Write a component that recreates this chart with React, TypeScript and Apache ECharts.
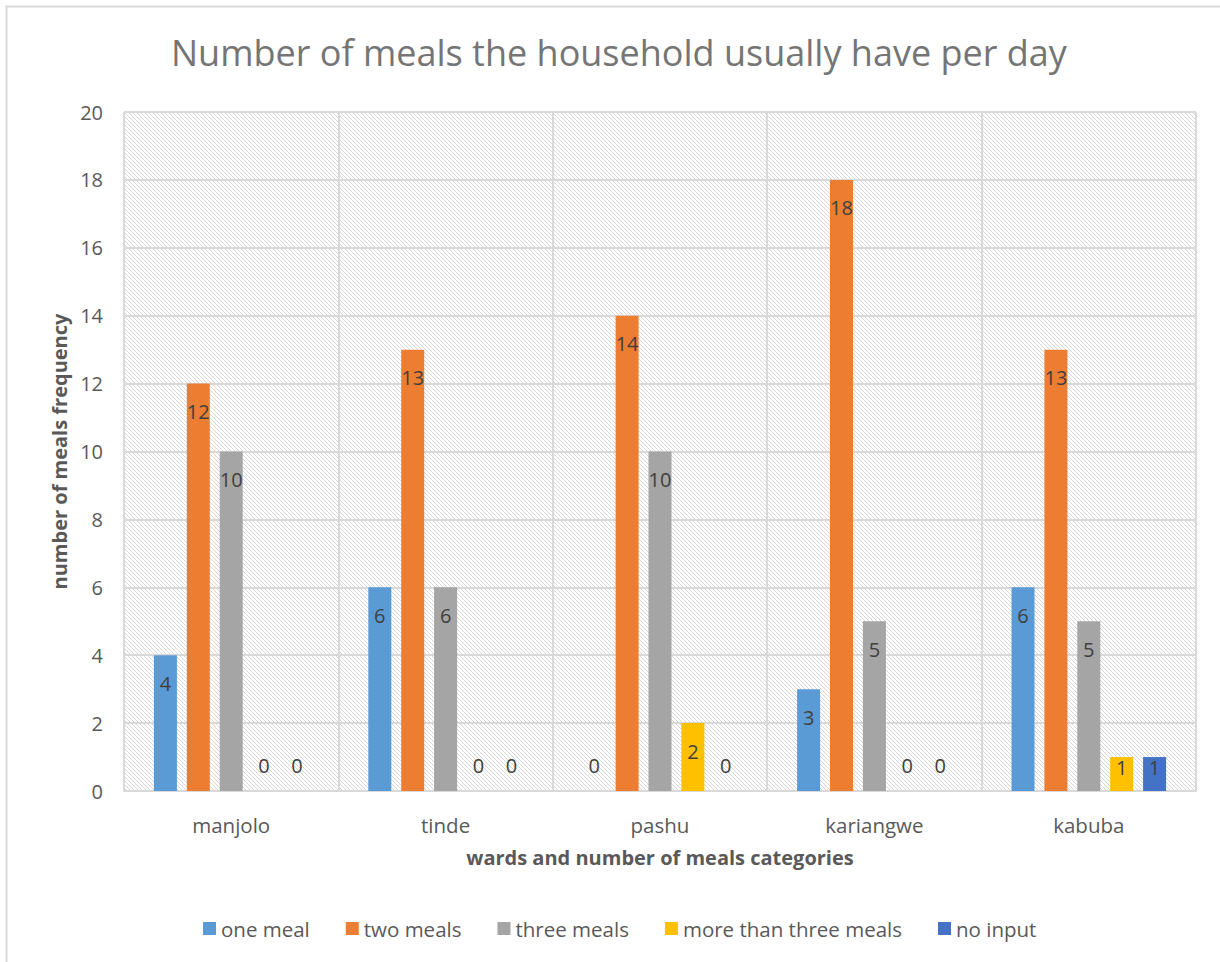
import React, { useEffect, useRef } from "react";
import * as echarts from "echarts";

const wards = ["manjolo", "tinde", "pashu", "kariangwe", "kabuba"];
const oneMeal = [4, 6, 0, 3, 6];
const twoMeals = [12, 13, 14, 18, 13];
const threeMeals = [10, 6, 10, 5, 5];
const moreThanThree = [0, 0, 2, 0, 1];
const noInput = [0, 0, 0, 0, 1];
const seriesNames = ["one meal", "two meals", "three meals", "more than three meals", "no input"];
const seriesValues = [oneMeal, twoMeals, threeMeals, moreThanThree, noInput];
const seriesColors = ["#5b9bd5", "#ed7d31", "#a5a5a5", "#ffc000", "#4472c4"];
const yTicks = [0, 2, 4, 6, 8, 10, 12, 14, 16, 18, 20];

const FONT = "'Open Sans', 'Noto Sans', sans-serif";

function makeHatch(): HTMLCanvasElement {
  const c = document.createElement("canvas");
  c.width = 4;
  c.height = 4;
  const ctx = c.getContext("2d")!;
  ctx.fillStyle = "#ffffff";
  ctx.fillRect(0, 0, 4, 4);
  ctx.fillStyle = "#d6d6d6";
  for (let i = 0; i < 4; i++) ctx.fillRect(i, i, 1, 1);
  return c;
}

function labelFor(v: number) {
  if (v === 0) return { position: "top", distance: 16 };
  if (v === 1) return { position: "insideTop", distance: 0 };
  return { position: "insideTop", distance: 18 };
}

export default function App() {
  const ref = useRef<HTMLDivElement>(null);
  useEffect(() => {
    if (!ref.current) return;
    const chart = echarts.init(ref.current, null, { renderer: "svg" });
    const hatch = makeHatch();
    chart.setOption({
      animation: false,
      backgroundColor: "#ffffff",
      title: {
        text: "Number of meals the household usually have per day",
        left: 166,
        top: 29,
        padding: 5,
        textStyle: { fontFamily: FONT, fontSize: 36, fontWeight: "normal", color: "#757575" },
      },
      graphic: [
        {
          type: "rect",
          shape: { x: 6.5, y: 6.5, width: 1400, height: 1200 },
          style: { fill: "none", stroke: "#d9d9d9", lineWidth: 2 },
          silent: true,
          z: -10,
        },
      ],
      grid: {
        left: 124,
        right: 24,
        top: 112,
        bottom: 171,
        show: true,
        borderWidth: 0,
        backgroundColor: { image: hatch, repeat: "repeat", imageWidth: 4, imageHeight: 4 },
      },
      legend: {
        left: 198,
        top: 913,
        padding: 5,
        itemWidth: 13,
        itemHeight: 13,
        itemGap: 36,
        icon: "rect",
        data: seriesNames,
        textStyle: { fontFamily: FONT, fontSize: 20.5, color: "#595959" },
      },
      xAxis: {
        type: "category",
        data: wards,
        name: "wards and number of meals categories",
        nameLocation: "middle",
        nameGap: 56,
        nameTextStyle: { fontFamily: FONT, fontSize: 20, fontWeight: "bold", color: "#595959" },
        axisLine: { show: true, lineStyle: { color: "#d9d9d9", width: 2 } },
        axisTick: { show: false },
        axisLabel: { fontFamily: FONT, fontSize: 20.5, color: "#595959", margin: 23 },
        splitLine: { show: true, lineStyle: { color: "#d9d9d9", width: 2 } },
      },
      yAxis: {
        type: "value",
        min: yTicks[0],
        max: yTicks[yTicks.length - 1],
        interval: 2,
        name: "number of meals frequency",
        nameLocation: "middle",
        nameGap: 55,
        nameTextStyle: { fontFamily: FONT, fontSize: 20, fontWeight: "bold", color: "#595959" },
        axisLine: { show: false },
        axisTick: { show: false },
        axisLabel: { fontFamily: FONT, fontSize: 20, color: "#595959", margin: 21 },
        splitLine: { show: true, lineStyle: { color: "#d9d9d9", width: 2 } },
      },
      series: seriesNames.map((name, si) => ({
        name,
        type: "bar",
        barWidth: 23,
        barGap: "43%",
        itemStyle: { color: seriesColors[si] },
        data: seriesValues[si].map((v) => ({
          value: v,
          label: {
            show: true,
            ...labelFor(v),
            fontFamily: FONT,
            fontSize: 20,
            color: "#404040",
          },
        })),
      })),
    });
    return () => chart.dispose();
  }, []);
  return (
    <div
      ref={ref}
      style={{ position: "absolute", left: 0, top: 0, width: 1220, height: 962 }}
    />
  );
}
